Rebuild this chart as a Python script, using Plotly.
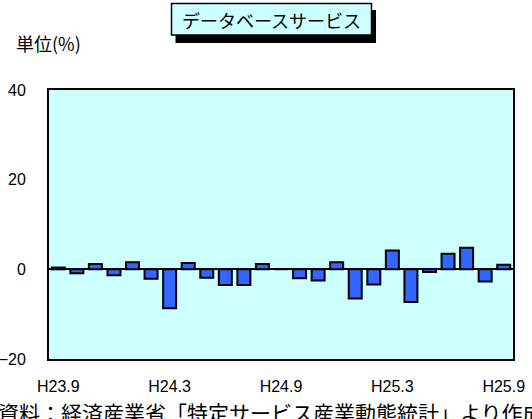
import plotly.graph_objects as go

months = (["H23.%d" % m for m in range(9, 13)] +
          ["H24.%d" % m for m in range(1, 13)] +
          ["H25.%d" % m for m in range(1, 10)])
values = [0.4, -0.9, 1.2, -1.3, 1.6, -2.1, -8.7, 1.4, -1.9, -3.5, -3.5, 1.2, 0.0,
          -2.0, -2.5, 1.6, -6.5, -3.4, 4.2, -7.3, -0.6, 3.5, 4.8, -2.7, 1.0]
tick_labels = ["H23.9", "H24.3", "H24.9", "H25.3", "H25.9"]
y_ticks = [-20, 0, 20, 40]

W, H = 532, 419
L, R, T, B = 49, 513, 90, 359


def px(x):
    return (x - L) / (R - L)


def py(y):
    return (B - y) / (B - T)


fig = go.Figure()
fig.add_trace(go.Bar(
    x=months, y=values,
    marker=dict(color="#3366FF", line=dict(color="#000000", width=2)),
    hoverinfo="x+y",
))

fig.update_layout(
    width=W, height=H, autosize=False,
    margin=dict(l=L, r=W - R, t=T, b=H - B, pad=0, autoexpand=False),
    paper_bgcolor="#FFFFFF",
    plot_bgcolor="#CCFFFF",
    bargap=0.3,
    showlegend=False,
    font=dict(family="Liberation Sans, Arial, sans-serif", size=16, color="#000000"),
    xaxis=dict(
        type="category", automargin=False,
        tickmode="array", tickvals=tick_labels, ticktext=tick_labels,
        showgrid=False, zeroline=False,
        showline=True, linecolor="#000000", linewidth=2, mirror=True,
        ticks="", ticklabelstandoff=12,
        tickfont=dict(size=16),
        fixedrange=True,
    ),
    yaxis=dict(
        range=[-20, 40], automargin=False,
        tickmode="array", tickvals=y_ticks,
        showgrid=False, zeroline=True, zerolinecolor="#000000", zerolinewidth=2,
        showline=True, linecolor="#000000", linewidth=2, mirror=True,
        ticks="", ticklabelstandoff=18,
        tickfont=dict(size=16),
        fixedrange=True,
    ),
)

# title box with drop shadow
fig.add_shape(type="rect", xref="paper", yref="paper",
              x0=px(175.5), x1=px(376), y0=py(43), y1=py(10),
              fillcolor="#000000", line=dict(width=0), layer="above")
fig.add_shape(type="rect", xref="paper", yref="paper",
              x0=px(171.5), x1=px(371.5), y0=py(35), y1=py(3.5),
              fillcolor="#CCFFFF", line=dict(color="#000000", width=1.5), layer="above")
fig.add_annotation(xref="paper", yref="paper", x=px(271.5), y=py(19.5),
                   text="データベースサービス", showarrow=False,
                   xanchor="center", yanchor="middle",
                   font=dict(family="Noto Sans CJK JP", size=18, color="#000000"))

fig.add_annotation(xref="paper", yref="paper", x=px(14), y=py(43),
                   text="単位(%)", showarrow=False,
                   xanchor="left", yanchor="middle",
                   font=dict(family="Noto Sans CJK JP", size=18, color="#000000"))

fig.add_annotation(xref="paper", yref="paper", x=px(-4), y=py(395),
                   text="資料：経済産業省「特定サービス産業動態統計」より作成", showarrow=False,
                   xanchor="left", yanchor="top",
                   font=dict(family="Noto Sans CJK JP", size=21, color="#000000"))

fig.write_html("out.html",
               config={"displayModeBar": False},
               post_script="document.body.style.margin='0';document.body.style.overflow='hidden';")
